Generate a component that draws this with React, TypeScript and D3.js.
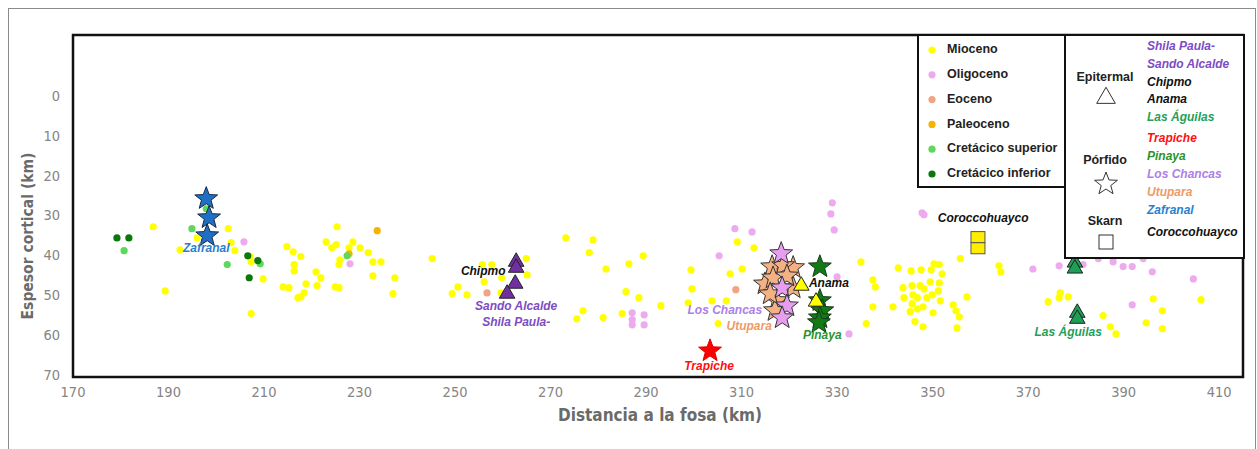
import React from "react";
import * as d3 from "d3";

// ejes
const xTicks = [170, 190, 210, 230, 250, 270, 290, 310, 330, 350, 370, 390, 410];
const yTicks = [0, 10, 20, 30, 40, 50, 60, 70];

// edades de los pórfidos / rocas (x = distancia a la fosa, y = espesor cortical)
const mioceno: [number, number][] = [
  [186.8, 32.6], [189.3, 48.7], [192.4, 38.4], [196.0, 35.4], [202.5, 33.1], [203.1, 36.6],
  [203.9, 38.6], [207.1, 40.1], [207.3, 41.4], [209.8, 45.7], [207.3, 54.4], [214.0, 47.7],
  [215.2, 47.9], [214.8, 37.6], [216.1, 38.9], [216.3, 42.1], [216.3, 43.7], [217.1, 50.4],
  [225.3, 32.6], [217.7, 40.1], [218.8, 46.9], [217.7, 50.2], [218.4, 49.2], [220.9, 43.9],
  [221.9, 45.4], [221.1, 47.4], [223.0, 36.4], [224.2, 37.9], [225.1, 37.1], [224.9, 47.7],
  [225.7, 47.9], [225.9, 40.9], [225.7, 42.1], [228.6, 36.4], [227.8, 37.9], [230.1, 37.9],
  [231.8, 39.1], [232.8, 41.4], [234.5, 41.4], [232.8, 44.9], [237.4, 45.4], [237.0, 49.4],
  [245.2, 40.6], [249.4, 49.4], [250.6, 47.7], [252.5, 49.7], [256.1, 46.4], [255.7, 42.1],
  [257.7, 42.1], [259.8, 45.4], [264.9, 40.6], [265.1, 44.7], [259.6, 49.2], [273.2, 35.4],
  [278.9, 35.9], [278.1, 39.1], [276.8, 53.7], [275.5, 55.7], [281.6, 43.2], [286.4, 41.9],
  [289.4, 39.9], [285.8, 48.9], [288.5, 50.4], [293.1, 52.4], [281.0, 55.4], [285.0, 54.4],
  [299.4, 43.4], [299.6, 48.2], [298.8, 51.7], [303.8, 51.2], [306.8, 51.2], [305.1, 56.9],
  [309.1, 36.4], [312.6, 37.9], [307.6, 44.4], [310.1, 43.2], [335.0, 41.4], [337.5, 45.9],
  [338.0, 47.7], [337.5, 52.7], [341.7, 52.7], [336.1, 56.9], [342.8, 42.9], [345.5, 43.7],
  [347.6, 43.4], [349.7, 43.4], [350.3, 41.9], [351.4, 42.1], [352.0, 44.4], [355.8, 40.6],
  [343.8, 47.9], [345.7, 47.4], [347.4, 47.4], [348.2, 48.2], [349.5, 46.4], [351.4, 46.7],
  [351.2, 48.7], [349.9, 49.7], [344.0, 50.4], [345.9, 49.7], [346.8, 50.4], [348.8, 50.4],
  [351.6, 51.2], [345.7, 51.9], [348.0, 52.7], [345.3, 53.9], [346.8, 53.2], [350.1, 54.2],
  [346.3, 56.4], [348.0, 57.7], [354.3, 52.2], [354.9, 53.7], [355.6, 55.2], [355.1, 58.0],
  [357.2, 50.2], [363.9, 42.4], [364.3, 43.9], [374.2, 51.4], [376.7, 49.2], [376.5, 50.4],
  [378.4, 50.2], [385.7, 54.9], [387.2, 57.7], [388.4, 59.5], [394.7, 56.7], [396.2, 50.7],
  [398.1, 53.7], [398.1, 58.2], [406.2, 50.9],
];
const oligoceno: [number, number][] = [
  [205.8, 36.4], [228.0, 41.9], [287.1, 54.2], [287.1, 55.9], [287.1, 57.2], [289.6, 54.7],
  [289.6, 57.2], [305.3, 39.9], [308.6, 33.1], [312.2, 33.9], [329.0, 26.6], [328.7, 29.4],
  [329.4, 33.4], [330.0, 45.2], [332.5, 59.5], [347.8, 29.1], [348.2, 29.6], [371.0, 43.2],
  [376.5, 42.4], [381.5, 42.1], [384.7, 40.6], [387.8, 40.4], [387.8, 41.4], [389.9, 42.6],
  [391.8, 42.6], [394.1, 40.6], [396.0, 43.9], [404.6, 45.7], [391.8, 52.2],
];
const eoceno: [number, number][] = [[256.7, 49.2], [308.8, 48.4]];
const paleoceno: [number, number][] = [[233.7, 33.6], [227.8, 39.4]];
const cretSuperior: [number, number][] = [
  [180.7, 38.6], [194.9, 33.1], [197.9, 28.1], [202.3, 42.1], [209.2, 41.9], [227.4, 39.9],
];
const cretInferior: [number, number][] = [
  [179.2, 35.4], [181.7, 35.4], [206.6, 39.9], [208.7, 41.1], [206.9, 45.4],
];

// yacimientos
const shilaSando: [number, number][] = [[262.8, 41.4], [262.8, 42.9], [262.6, 46.9], [260.9, 49.4]];
const anama: [number, number][] = [[322.5, 47.4], [325.6, 51.4]];
const lasAguilas: [number, number][] = [[379.8, 41.6], [379.8, 43.1], [380.3, 54.2], [380.3, 55.7]];
const zafranal: [number, number][] = [[197.9, 25.3], [198.5, 30.1], [198.1, 34.6]];
const utupara: [number, number][] = [
  [316.4, 42.4], [320.8, 42.6], [318.7, 42.1], [314.9, 46.7], [316.6, 45.2], [320.8, 47.7],
  [317.4, 50.9], [317.0, 53.4], [319.5, 44.7], [316.0, 49.2],
];
const losChancas: [number, number][] = [[318.3, 39.1], [318.5, 47.7], [319.5, 52.2], [318.5, 55.2]];
const pinaya: [number, number][] = [[326.4, 42.4], [326.4, 50.9], [326.9, 53.4], [326.4, 55.2], [326.2, 56.4]];
const trapiche: [number, number][] = [[303.4, 63.5]];
const coroccohuayco: [number, number][] = [[359.5, 35.2], [359.5, 38.0]];

const ageLegend = [
  { name: "Mioceno", color: "#ffff00" },
  { name: "Oligoceno", color: "#eeaaee" },
  { name: "Eoceno", color: "#f2a382" },
  { name: "Paleoceno", color: "#f5b400" },
  { name: "Cretácico superior", color: "#5cd85c" },
  { name: "Cretácico inferior", color: "#0b780b" },
];

const depositLegend = [
  { name: "Shila Paula-", color: "#7d4cc4" },
  { name: "Sando Alcalde", color: "#7d4cc4" },
  { name: "Chipmo", color: "#111" },
  { name: "Anama", color: "#111" },
  { name: "Las Águilas", color: "#1f9f5a" },
  { name: "Trapiche", color: "#ff1010" },
  { name: "Pinaya", color: "#2b942b" },
  { name: "Los Chancas", color: "#ad80e6" },
  { name: "Utupara", color: "#f09a66" },
  { name: "Zafranal", color: "#2a7fd0" },
  { name: "Coroccohuayco", color: "#111" },
];

// etiquetas dentro del gráfico [x, y, texto, color]
const labels: [number, number, string, string][] = [
  [197.9, 38.2, "Zafranal", "#2a7fd0"],
  [255.9, 43.8, "Chipmo", "#111"],
  [262.8, 52.7, "Sando Alcalde", "#7d4cc4"],
  [262.8, 56.7, "Shila Paula-", "#7d4cc4"],
  [306.5, 53.7, "Los Chancas", "#ad80e6"],
  [311.6, 57.7, "Utupara", "#f09a66"],
  [303.2, 67.7, "Trapiche", "#ff1010"],
  [328.3, 46.9, "Anama", "#111"],
  [326.9, 60.0, "Pinaya", "#2b942b"],
  [360.6, 30.6, "Coroccohuayco", "#111"],
  [378.4, 59.2, "Las Águilas", "#1f9f5a"],
];

const W = 1257;
const H = 449;
const x = d3.scaleLinear().domain([170, 415]).range([73, 1243]);
const y = d3.scaleLinear().domain([-15.5, 70.3]).range([35, 377]);

const star = (R: number) =>
  d3.lineRadial<[number, number]>().curve(d3.curveLinearClosed)(
    d3.range(10).map((i) => [(i * Math.PI) / 5, i % 2 ? R * 0.42 : R] as [number, number])
  ) as string;
const tri = (s: number) => d3.symbol(d3.symbolTriangle, s)() as string;

const narrow = "'Liberation Sans Narrow', 'DejaVu Sans Condensed', sans-serif";
const sans = "'Liberation Sans', Arial, sans-serif";

export default function App() {
  const dots = (data: [number, number][], color: string, key: string) =>
    data.map((d, i) => <circle key={key + i} cx={x(d[0])} cy={y(d[1])} r={3.6} fill={color} />);

  const stars = (data: [number, number][], fill: string, stroke: string, key: string) =>
    data.map((d, i) => (
      <path key={key + i} d={star(12)} transform={`translate(${x(d[0])},${y(d[1]) + 1})`}
        fill={fill} stroke={stroke} strokeWidth={1} strokeLinejoin="miter" />
    ));

  const tris = (data: [number, number][], fill: string, key: string) =>
    data.map((d, i) => (
      <path key={key + i} d={tri(105)} transform={`translate(${x(d[0])},${y(d[1])})`}
        fill={fill} stroke="#222" strokeWidth={1} />
    ));

  return (
    <div style={{ position: "absolute", left: 0, top: 0 }}>
      <svg width={W} height={H} style={{ display: "block", background: "#fff" }}>
        <rect x={8.5} y={8.5} width={1247} height={470} fill="none" stroke="#8a8a8a" strokeWidth={1} />

        {/* puntos por edad */}
        {dots(mioceno, ageLegend[0].color, "m")}
        {dots(oligoceno, ageLegend[1].color, "o")}
        {dots(eoceno, ageLegend[2].color, "e")}
        {dots(paleoceno, ageLegend[3].color, "p")}
        {dots(cretSuperior, ageLegend[4].color, "cs")}
        {dots(cretInferior, ageLegend[5].color, "ci")}

        {/* yacimientos */}
        {stars(zafranal, "#1f6fc4", "#1b2a44", "z")}
        {tris(shilaSando, "#7030a0", "sh")}
        {stars(utupara, "#f4b183", "#333", "u")}
        {stars(losChancas, "#e79df0", "#333", "lc")}
        {stars(pinaya, "#127a14", "#1a3a1a", "pi")}
        {tris(anama, "#ffff00", "an")}
        {tris(lasAguilas, "#1f9f55", "la")}
        {stars(trapiche, "#ff0000", "#e00000", "t")}
        {coroccohuayco.map((d, i) => (
          <rect key={"co" + i} x={x(d[0]) - 7} y={y(d[1]) - 5.5} width={14} height={11}
            fill="#ffee00" stroke="#555" strokeWidth={1} />
        ))}

        {labels.map(([lx, ly, t, c]) => (
          <text key={t} x={x(lx)} y={y(ly)} fill={c} fontFamily={sans} fontSize={12}
            fontWeight="bold" fontStyle="italic" textAnchor="middle" dominantBaseline="middle">
            {t}
          </text>
        ))}

        {/* marco */}
        <rect x={73} y={35} width={1170} height={342} fill="none" stroke="#111" strokeWidth={2.5} />

        {/* ticks */}
        {yTicks.map((t) => (
          <text key={"y" + t} x={60} y={y(t)} textAnchor="end" dominantBaseline="middle"
            fontFamily={narrow} fontSize={14.5} fill="#858585">{t}</text>
        ))}
        {xTicks.map((t) => (
          <text key={"x" + t} x={x(t)} y={393} textAnchor="middle" dominantBaseline="middle"
            fontFamily={narrow} fontSize={14.5} fill="#858585">{t}</text>
        ))}
        <text x={660} y={416} textAnchor="middle" dominantBaseline="middle" fontFamily={narrow}
          fontSize={17} fontWeight="bold" fill="#6a6a6a">Distancia a la fosa (km)</text>
        <text transform="translate(28,236) rotate(-90)" textAnchor="middle" dominantBaseline="middle"
          fontFamily={narrow} fontSize={15.5} fontWeight="bold" fill="#6a6a6a">Espesor cortical (km)</text>

        {/* leyenda edades */}
        <rect x={918} y={35} width={147} height={152} fill="#fff" stroke="#111" strokeWidth={2} />
        {ageLegend.map((a, i) => (
          <g key={a.name} transform={`translate(0,${50 + i * 24.8})`}>
            <circle cx={932} cy={0} r={3.6} fill={a.color} />
            <text x={947} y={0} dominantBaseline="middle" fontFamily={sans} fontSize={12.5}
              fontWeight="bold" fill="#222">{a.name}</text>
          </g>
        ))}

        {/* leyenda yacimientos */}
        <rect x={1065} y={35} width={179} height={223} fill="#fff" stroke="#111" strokeWidth={2} />
        <text x={1105} y={78} textAnchor="middle" dominantBaseline="middle" fontFamily={sans}
          fontSize={12.5} fontWeight="bold" fill="#222">Epitermal</text>
        <path d={tri(150)} transform="translate(1106,98)" fill="#fff" stroke="#333" strokeWidth={1} />
        <text x={1105} y={161} textAnchor="middle" dominantBaseline="middle" fontFamily={sans}
          fontSize={12.5} fontWeight="bold" fill="#222">Pórfido</text>
        <path d={star(12)} transform="translate(1106,184)" fill="#fff" stroke="#333" strokeWidth={1} />
        <text x={1105} y={222} textAnchor="middle" dominantBaseline="middle" fontFamily={sans}
          fontSize={12.5} fontWeight="bold" fill="#222">Skarn</text>
        <rect x={1099} y={235} width={14} height={14} fill="#fff" stroke="#333" strokeWidth={1} />
        {depositLegend.map((d, i) => {
          const yy = [47, 65, 83, 100, 118, 139, 157, 175, 193, 211, 233][i];
          return (
            <text key={d.name} x={1147} y={yy} dominantBaseline="middle" fontFamily={sans}
              fontSize={12} fontWeight="bold" fontStyle="italic" fill={d.color}>{d.name}</text>
          );
        })}
      </svg>
    </div>
  );
}
